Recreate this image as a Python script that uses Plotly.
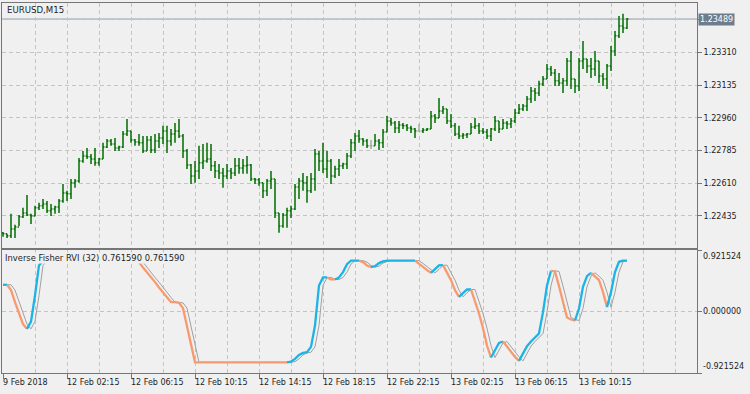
import plotly.graph_objects as go

# ---------------- data ----------------
time_labels = ["9 Feb 2018", "12 Feb 02:15", "12 Feb 06:15", "12 Feb 10:15", "12 Feb 14:15",
               "12 Feb 18:15", "12 Feb 22:15", "13 Feb 02:15", "13 Feb 06:15", "13 Feb 10:15"]
label_bars = [0, 16, 32, 48, 64, 80, 96, 112, 128, 144]
price_ticks = [1.22435, 1.22610, 1.22785, 1.22960, 1.23135, 1.23310]
ind_ticks = [-0.921524, 0.0, 0.921524]
symbol = "EURUSD,M15"
ind_name = "Inverse Fisher RVI (32) 0.761590 0.761590"

open_ = [
    1.22344, 1.22339, 1.22328, 1.22365, 1.22376, 1.22430, 1.22451, 1.22440, 1.22435, 1.22478,
    1.22489, 1.22499, 1.22462, 1.22472, 1.22483, 1.22515, 1.22558, 1.22553, 1.22612, 1.22622,
    1.22729, 1.22756, 1.22751, 1.22740, 1.22719, 1.22740, 1.22804, 1.22836, 1.22820, 1.22799,
    1.22804, 1.22874, 1.22890, 1.22842, 1.22831, 1.22826, 1.22783, 1.22842, 1.22788, 1.22836,
    1.22852, 1.22890, 1.22836, 1.22874, 1.22890, 1.22863, 1.22783, 1.22708, 1.22649, 1.22676,
    1.22719, 1.22729, 1.22740, 1.22703, 1.22676, 1.22665, 1.22649, 1.22676, 1.22665, 1.22703,
    1.22692, 1.22703, 1.22708, 1.22633, 1.22628, 1.22612, 1.22569, 1.22622, 1.22633, 1.22451,
    1.22381, 1.22440, 1.22462, 1.22472, 1.22590, 1.22622, 1.22612, 1.22569, 1.22633, 1.22767,
    1.22729, 1.22686, 1.22729, 1.22649, 1.22686, 1.22703, 1.22713, 1.22756, 1.22826, 1.22863,
    1.22847, 1.22836, 1.22810, 1.22810, 1.22836, 1.22826, 1.22884, 1.22943, 1.22933, 1.22906,
    1.22922, 1.22917, 1.22906, 1.22900, 1.22890, 1.22890, 1.22895, 1.22900, 1.22970, 1.22959,
    1.22997, 1.23007, 1.22943, 1.22917, 1.22874, 1.22863, 1.22868, 1.22874, 1.22911, 1.22917,
    1.22890, 1.22884, 1.22863, 1.22900, 1.22943, 1.22900, 1.22933, 1.22927, 1.22943, 1.22986,
    1.23007, 1.23024, 1.23061, 1.23104, 1.23093, 1.23141, 1.23168, 1.23222, 1.23200, 1.23158,
    1.23147, 1.23158, 1.23265, 1.23168, 1.23131, 1.23265, 1.23275, 1.23238, 1.23222, 1.23265,
    1.23184, 1.23168, 1.23238, 1.23318, 1.23399, 1.23452, 1.23441,
]
high = [
    1.22349, 1.22339, 1.22446, 1.22387, 1.22440, 1.22478, 1.22547, 1.22446, 1.22489, 1.22505,
    1.22526, 1.22515, 1.22499, 1.22489, 1.22526, 1.22606, 1.22569, 1.22633, 1.22633, 1.22745,
    1.22783, 1.22799, 1.22767, 1.22799, 1.22745, 1.22826, 1.22847, 1.22847, 1.22852, 1.22810,
    1.22890, 1.22954, 1.22890, 1.22847, 1.22874, 1.22863, 1.22863, 1.22863, 1.22874, 1.22879,
    1.22917, 1.22917, 1.22900, 1.22933, 1.22954, 1.22874, 1.22793, 1.22713, 1.22729, 1.22810,
    1.22820, 1.22826, 1.22820, 1.22729, 1.22713, 1.22692, 1.22713, 1.22692, 1.22745, 1.22745,
    1.22740, 1.22756, 1.22713, 1.22638, 1.22638, 1.22612, 1.22633, 1.22676, 1.22633, 1.22451,
    1.22451, 1.22478, 1.22489, 1.22606, 1.22638, 1.22665, 1.22649, 1.22665, 1.22793, 1.22783,
    1.22826, 1.22783, 1.22740, 1.22703, 1.22740, 1.22719, 1.22772, 1.22847, 1.22879, 1.22895,
    1.22852, 1.22847, 1.22842, 1.22874, 1.22847, 1.22900, 1.22970, 1.22959, 1.22943, 1.22943,
    1.22933, 1.22927, 1.22917, 1.22906, 1.22927, 1.22906, 1.22906, 1.22997, 1.22981, 1.23066,
    1.23024, 1.23007, 1.22981, 1.22933, 1.22917, 1.22879, 1.22879, 1.22933, 1.22959, 1.22933,
    1.22906, 1.22900, 1.22906, 1.22970, 1.22943, 1.22954, 1.22943, 1.22959, 1.23007, 1.23034,
    1.23034, 1.23077, 1.23125, 1.23120, 1.23158, 1.23184, 1.23248, 1.23238, 1.23222, 1.23200,
    1.23174, 1.23281, 1.23318, 1.23168, 1.23281, 1.23372, 1.23275, 1.23281, 1.23318, 1.23265,
    1.23200, 1.23248, 1.23345, 1.23425, 1.23506, 1.23517, 1.23495,
]
low = [
    1.22323, 1.22317, 1.22317, 1.22317, 1.22381, 1.22424, 1.22435, 1.22392, 1.22435, 1.22467,
    1.22472, 1.22451, 1.22435, 1.22446, 1.22451, 1.22505, 1.22515, 1.22526, 1.22585, 1.22612,
    1.22719, 1.22740, 1.22713, 1.22703, 1.22703, 1.22740, 1.22799, 1.22810, 1.22783, 1.22783,
    1.22799, 1.22863, 1.22826, 1.22810, 1.22810, 1.22772, 1.22783, 1.22772, 1.22772, 1.22799,
    1.22820, 1.22772, 1.22810, 1.22826, 1.22852, 1.22745, 1.22686, 1.22606, 1.22612, 1.22633,
    1.22686, 1.22719, 1.22676, 1.22638, 1.22633, 1.22585, 1.22633, 1.22633, 1.22649, 1.22660,
    1.22660, 1.22660, 1.22622, 1.22606, 1.22596, 1.22531, 1.22542, 1.22579, 1.22424, 1.22344,
    1.22371, 1.22371, 1.22424, 1.22467, 1.22526, 1.22569, 1.22505, 1.22558, 1.22569, 1.22676,
    1.22665, 1.22638, 1.22606, 1.22638, 1.22649, 1.22686, 1.22686, 1.22745, 1.22783, 1.22826,
    1.22810, 1.22799, 1.22793, 1.22810, 1.22788, 1.22799, 1.22884, 1.22917, 1.22879, 1.22879,
    1.22900, 1.22890, 1.22879, 1.22852, 1.22884, 1.22879, 1.22890, 1.22900, 1.22933, 1.22959,
    1.22981, 1.22927, 1.22906, 1.22863, 1.22847, 1.22847, 1.22852, 1.22874, 1.22900, 1.22874,
    1.22874, 1.22847, 1.22836, 1.22890, 1.22879, 1.22900, 1.22900, 1.22906, 1.22933, 1.22981,
    1.22997, 1.22997, 1.23040, 1.23050, 1.23077, 1.23131, 1.23168, 1.23184, 1.23131, 1.23131,
    1.23093, 1.23131, 1.23114, 1.23093, 1.23104, 1.23222, 1.23200, 1.23174, 1.23184, 1.23147,
    1.23131, 1.23114, 1.23211, 1.23291, 1.23388, 1.23415, 1.23436,
]
close = [
    1.22339, 1.22328, 1.22365, 1.22376, 1.22430, 1.22451, 1.22440, 1.22435, 1.22478, 1.22489,
    1.22499, 1.22462, 1.22472, 1.22483, 1.22515, 1.22558, 1.22553, 1.22612, 1.22622, 1.22729,
    1.22756, 1.22751, 1.22740, 1.22719, 1.22740, 1.22804, 1.22836, 1.22820, 1.22799, 1.22804,
    1.22874, 1.22890, 1.22842, 1.22831, 1.22826, 1.22783, 1.22842, 1.22788, 1.22836, 1.22852,
    1.22890, 1.22836, 1.22874, 1.22890, 1.22863, 1.22783, 1.22708, 1.22649, 1.22676, 1.22719,
    1.22729, 1.22740, 1.22703, 1.22676, 1.22665, 1.22649, 1.22676, 1.22665, 1.22703, 1.22692,
    1.22703, 1.22708, 1.22633, 1.22628, 1.22612, 1.22569, 1.22622, 1.22633, 1.22451, 1.22381,
    1.22440, 1.22462, 1.22472, 1.22590, 1.22622, 1.22612, 1.22569, 1.22633, 1.22767, 1.22729,
    1.22686, 1.22729, 1.22649, 1.22686, 1.22703, 1.22713, 1.22756, 1.22826, 1.22863, 1.22847,
    1.22836, 1.22810, 1.22810, 1.22836, 1.22826, 1.22884, 1.22943, 1.22933, 1.22906, 1.22922,
    1.22917, 1.22906, 1.22900, 1.22890, 1.22890, 1.22895, 1.22900, 1.22970, 1.22959, 1.22997,
    1.23007, 1.22943, 1.22917, 1.22874, 1.22863, 1.22868, 1.22874, 1.22911, 1.22917, 1.22890,
    1.22884, 1.22863, 1.22900, 1.22943, 1.22900, 1.22933, 1.22927, 1.22943, 1.22986, 1.23007,
    1.23024, 1.23061, 1.23104, 1.23093, 1.23141, 1.23168, 1.23222, 1.23200, 1.23158, 1.23147,
    1.23158, 1.23265, 1.23168, 1.23131, 1.23265, 1.23275, 1.23238, 1.23222, 1.23265, 1.23184,
    1.23168, 1.23238, 1.23318, 1.23399, 1.23452, 1.23441, 1.23489,
]
ifrvi = [
    0.40, 0.40, 0.32, 0.14, -0.04, -0.19, -0.26, -0.15, 0.24, 0.69,
    0.76159, 0.76159, 0.76159, 0.76159, 0.76159, 0.76159, 0.76159, 0.76159, 0.76159, 0.76159,
    0.76159, 0.76159, 0.76159, 0.76159, 0.76159, 0.76159, 0.76159, 0.76159, 0.76159, 0.76159,
    0.76159, 0.76159, 0.76159, 0.76159, 0.74, 0.66, 0.59, 0.51, 0.44, 0.36,
    0.29, 0.21, 0.14, 0.14, 0.13, 0.05, -0.21, -0.51, -0.76159, -0.76159,
    -0.76159, -0.76159, -0.76159, -0.76159, -0.76159, -0.76159, -0.76159, -0.76159, -0.76159, -0.76159,
    -0.76159, -0.76159, -0.76159, -0.76159, -0.76159, -0.76159, -0.76159, -0.76159, -0.76159, -0.76159,
    -0.76159, -0.76159, -0.75, -0.71, -0.65, -0.62, -0.61, -0.53, -0.21, 0.39,
    0.51, 0.51, 0.48, 0.48, 0.51, 0.59, 0.71, 0.76159, 0.76159, 0.76159,
    0.74, 0.69, 0.665, 0.68, 0.725, 0.75, 0.76159, 0.76159, 0.76159, 0.76159,
    0.76159, 0.76159, 0.76159, 0.76159, 0.72, 0.67, 0.62, 0.58, 0.63, 0.69,
    0.695, 0.59, 0.47, 0.32, 0.22, 0.28, 0.33, 0.33, 0.15, -0.03,
    -0.25, -0.51, -0.69, -0.58, -0.47, -0.45, -0.53, -0.60, -0.68, -0.74,
    -0.62, -0.52, -0.45, -0.39, -0.33, -0.01, 0.39, 0.61, 0.60, 0.38,
    0.12, -0.09, -0.12, -0.135, 0.045, 0.37, 0.53, 0.58, 0.53, 0.47,
    0.29, 0.065, 0.29, 0.59, 0.745, 0.76159, 0.76159,
]

# ---------------- styling ----------------
BG = "#f0f0f0"
GRID = "#c4c4c4"
BORDER = "#767676"
TXT = "#1e1e1e"
BAR = "#006e00"
DOJI = "#a8a8a8"
BLUE = "#1cb3e6"
ORANGE = "#f89a70"
SIGNAL = "#a0a0a0"
PRICE_LINE = "#8e99a5"
PRICE_BOX = "#6e7d8c"
DASH = "4px,3px"
FONT = "DejaVu Sans"

n = len(close)
idx = list(range(n))
XR = [-0.25, 173.5]

fig = go.Figure()

# OHLC bars: normal and doji
norm = [i for i in idx if open_[i] != close[i]]
doji = [i for i in idx if open_[i] == close[i]]
for sel, col in ((norm, BAR), (doji, DOJI)):
    fig.add_trace(go.Ohlc(
        x=[idx[i] for i in sel], open=[open_[i] for i in sel], high=[high[i] for i in sel],
        low=[low[i] for i in sel], close=[close[i] for i in sel],
        increasing=dict(line=dict(color=col, width=1.5)),
        decreasing=dict(line=dict(color=col, width=1.5)),
        tickwidth=0.35, xaxis="x", yaxis="y", hoverinfo="skip", showlegend=False))

# signal line (indicator delayed one bar)
fig.add_trace(go.Scatter(x=idx[1:], y=ifrvi[:-1], mode="lines",
                         line=dict(color=SIGNAL, width=1), xaxis="x2", yaxis="y2",
                         hoverinfo="skip", showlegend=False))

# main indicator line coloured by slope
seg_cols = []
prev = BLUE
for i in range(1, n):
    if ifrvi[i] > ifrvi[i - 1]:
        c = BLUE
    elif ifrvi[i] < ifrvi[i - 1]:
        c = ORANGE
    else:
        c = prev
    seg_cols.append(c)
    prev = c
start = 0
for k in range(1, len(seg_cols) + 1):
    if k == len(seg_cols) or seg_cols[k] != seg_cols[start]:
        fig.add_trace(go.Scatter(x=idx[start:k + 1], y=ifrvi[start:k + 1], mode="lines",
                                 line=dict(color=seg_cols[start], width=2.3),
                                 xaxis="x2", yaxis="y2", hoverinfo="skip", showlegend=False))
        start = k

axis_common = dict(showline=True, mirror=True, linecolor=BORDER, linewidth=1,
                   zeroline=False, fixedrange=True, gridcolor=GRID, gridwidth=1, griddash=DASH)

fig.update_layout(
    width=750, height=394,
    margin=dict(l=2, r=53, t=3, b=21, pad=0),
    paper_bgcolor=BG, plot_bgcolor=BG,
    showlegend=False,
    font=dict(family=FONT, size=8, color=TXT),
    xaxis=dict(domain=[0, 1], anchor="y", range=XR, tickmode="linear", tick0=0, dtick=8,
               showticklabels=False, ticks="", showgrid=True,
               rangeslider=dict(visible=False), **axis_common),
    yaxis=dict(domain=[0.33784, 1], anchor="x", range=[1.22263, 1.23575], side="right",
               tickmode="array", tickvals=price_ticks + [1.23485],
               ticktext=[f"{v:.5f}" for v in price_ticks] + [""],
               ticks="outside", ticklen=4, tickcolor=BORDER, showgrid=True,
               tickfont=dict(family=FONT, size=8, color=TXT), **axis_common),
    xaxis2=dict(domain=[0, 1], anchor="y2", range=XR, tickmode="array", tickvals=label_bars,
                showticklabels=False, ticks="outside", ticklen=5, tickcolor=BORDER, showgrid=True,
                minor=dict(tick0=0, dtick=8, showgrid=True, gridcolor=GRID, griddash=DASH, ticks=""),
                rangeslider=dict(visible=False), **axis_common),
    yaxis2=dict(domain=[0, 0.33243], anchor="x2", range=[ind_ticks[0], ind_ticks[-1]], side="right",
                tickmode="array", tickvals=ind_ticks, showticklabels=False,
                ticks="outside", ticklen=4, tickcolor=BORDER, showgrid=True, **axis_common),
)

# current price line and label
fig.add_shape(type="line", xref="paper", x0=0, x1=1, yref="y", y0=close[-1], y1=close[-1],
              line=dict(color=PRICE_LINE, width=1), layer="below")
fig.add_annotation(xref="paper", x=1, xanchor="left", xshift=1, yref="y", y=close[-1],
                   yanchor="middle", text=f"{close[-1]:.5f}", showarrow=False,
                   bgcolor=PRICE_BOX, borderpad=1, font=dict(family=FONT, size=8, color="white"))

# titles
fig.add_annotation(xref="paper", x=0, xanchor="left", xshift=3, yref="paper", y=1,
                   yanchor="top", yshift=0, text=symbol, showarrow=False,
                   font=dict(family=FONT, size=8.6, color=TXT))
fig.add_annotation(xref="paper", x=0, xanchor="left", xshift=2, yref="paper", y=0.33243,
                   yanchor="top", yshift=-2, text=ind_name, showarrow=False, bgcolor=BG,
                   borderpad=0, font=dict(family=FONT, size=8.4, color=TXT))

# indicator scale labels
for v, anc in zip(ind_ticks, ["bottom", "middle", "top"]):
    fig.add_annotation(xref="paper", x=1, xanchor="left", xshift=4, yref="y2", y=v,
                       yanchor=anc, text=f"{v:.6f}", showarrow=False,
                       font=dict(family=FONT, size=8, color=TXT))

# time labels
for b, t in zip(label_bars, time_labels):
    fig.add_annotation(xref="x2", x=b, xanchor="left", xshift=-2, yref="paper", y=0,
                       yanchor="top", yshift=-3, text=t, showarrow=False,
                       font=dict(family=FONT, size=8, color=TXT))

fig.write_html("out.html")
